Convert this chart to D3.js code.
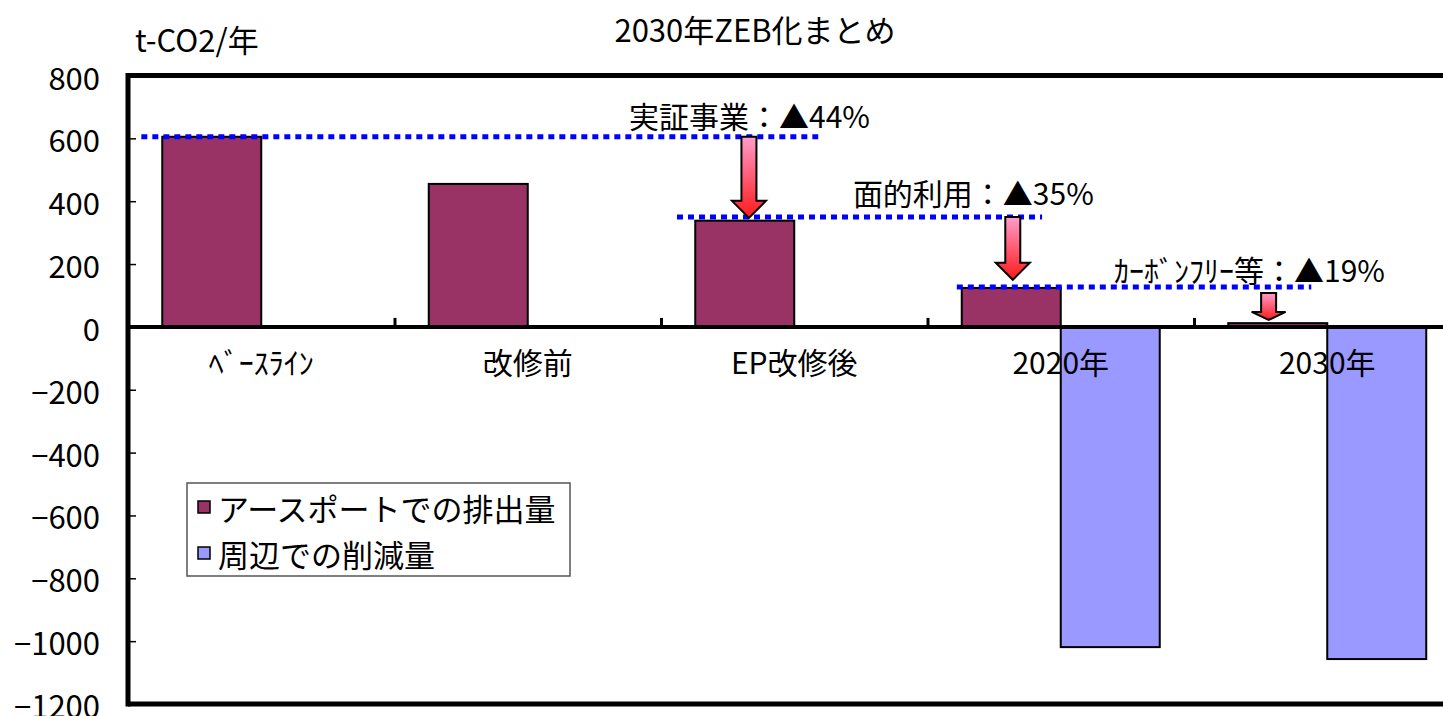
<!DOCTYPE html>
<html>
<head>
<meta charset="utf-8">
<script src="https://cdn.jsdelivr.net/npm/d3@7"></script>
<style>
  body { margin: 0; background: #fff; }
  svg text { font-family: "Noto Sans CJK JP", "Noto Sans", sans-serif; fill: #000; }
</style>
</head>
<body>
<div class="chart"></div>
<script>
// chart data
var categories = ["ﾍﾞｰｽﾗｲﾝ", "改修前", "EP改修後", "2020年", "2030年"];
var seriesNames = ["アースポートでの排出量", "周辺での削減量"];
var emissions = [605, 455, 338, 124, 12];
var reductions = [0, 0, 0, -1019, -1057];
var yTicks = [800, 600, 400, 200, 0, -200, -400, -600, -800, -1000, -1200];

// step annotations (x in category units, y in t-CO2)
var stepLabels = ["実証事業：▲44%", "面的利用：▲35%", "ｶｰﾎﾞﾝﾌﾘｰ等：▲19%"];
var stepLevels = [605, 350, 127];
var stepLineFrom = [0.05, 2.06, 3.11];
var stepLineTo = [2.59, 3.43, 4.44];
var arrowAt = [2.33, 3.32, 4.28];
var arrowFrom = [605, 350, 108];
var arrowTo = [347, 150, 22];
var labelAt = [1.88, 2.72, 3.70];
var labelLevel = [633, 388, 143];

var colors = ["#993366", "#9999ff"];

var width = 1443;
var height = 716;
var plot = { left: 128, top: 75.5, bottom: 704, band: 266.5 };
plot.right = plot.left + plot.band * categories.length;

var svg = d3
  .select(".chart")
  .append("svg")
  .attr("width", width)
  .attr("height", height);

var x = d3.scaleBand().domain(categories).range([plot.left, plot.right]).paddingInner(0).paddingOuter(0);
var xSub = d3.scaleBand().domain(seriesNames).range([0, x.bandwidth()]).paddingInner(0).paddingOuter(0.346);
var xU = d3.scaleLinear().domain([0, categories.length]).range([plot.left, plot.right]);
var y = d3.scaleLinear().domain([-1200, 800]).range([plot.bottom, plot.top]);

// gradient for the arrows
var grad = svg.append("defs").append("linearGradient")
  .attr("id", "arrowGrad")
  .attr("x1", 0).attr("y1", 0).attr("x2", 0).attr("y2", 1);
grad.append("stop").attr("offset", "0%").attr("stop-color", "#ff9ccc");
grad.append("stop").attr("offset", "100%").attr("stop-color", "#ff1a1a");

// titles
svg.append("text")
  .attr("x", 755).attr("y", 28)
  .attr("text-anchor", "middle")
  .attr("dominant-baseline", "central")
  .attr("font-size", "31px")
  .text("2030年ZEB化まとめ");

svg.append("text")
  .attr("x", 135).attr("y", 38)
  .attr("dominant-baseline", "central")
  .attr("font-size", "31px")
  .text("t-CO2/年");

// bars
var rows = categories.map((c, i) => ({ cat: c, values: [emissions[i], reductions[i]] }));

var groups = svg.append("g").attr("class", "bars")
  .selectAll("g")
  .data(rows)
  .enter()
  .append("g")
  .attr("transform", (d) => `translate(${x(d.cat)},0)`);

groups.selectAll("rect")
  .data((d) => d.values.map((v, j) => ({ series: seriesNames[j], value: v, j: j })))
  .enter()
  .filter((d) => d.value !== 0)
  .append("rect")
  .attr("x", (d) => xSub(d.series))
  .attr("width", xSub.bandwidth())
  .attr("y", (d) => y(Math.max(0, d.value)))
  .attr("height", (d) => Math.abs(y(d.value) - y(0)))
  .attr("fill", (d) => colors[d.j])
  .attr("stroke", "#000")
  .attr("stroke-width", 2);

// y axis
var yAxis = d3.axisLeft(y)
  .tickValues(yTicks)
  .tickFormat(d3.format("d"))
  .tickSizeInner(-8)
  .tickSizeOuter(0)
  .tickPadding(28);
var yAxisDraw = svg.append("g").attr("class", "y axis")
  .attr("transform", `translate(${plot.left},0)`)
  .call(yAxis);
yAxisDraw.select(".domain").remove();
yAxisDraw.selectAll(".tick line").attr("stroke", "#000").attr("stroke-width", 1.5);
yAxisDraw.selectAll("text")
  .attr("font-size", "31px")
  .attr("font-family", "\"Noto Sans CJK JP\", sans-serif")
  .attr("fill", "#000")
  .attr("dy", null)
  .attr("dominant-baseline", "central");

// frame
var frame = svg.append("g").attr("class", "frame").attr("stroke", "#000").attr("stroke-width", 5);
frame.append("line").attr("x1", plot.left).attr("x2", plot.left).attr("y1", plot.top - 2.5).attr("y2", plot.bottom + 2.5);
frame.append("line").attr("x1", plot.left).attr("x2", plot.right).attr("y1", plot.top).attr("y2", plot.top);
frame.append("line").attr("x1", plot.left).attr("x2", plot.right).attr("y1", plot.bottom).attr("y2", plot.bottom);
frame.append("line").attr("x1", plot.right).attr("x2", plot.right).attr("y1", plot.top).attr("y2", plot.bottom);

// zero line with category boundary ticks
var xTicks = d3.axisBottom(xU).tickValues(d3.range(1, categories.length)).tickSizeInner(-9).tickSizeOuter(0).tickFormat("");
var xTickDraw = svg.append("g").attr("transform", `translate(0,${y(0)})`).call(xTicks);
xTickDraw.select(".domain").remove();
xTickDraw.selectAll(".tick line").attr("stroke", "#000").attr("stroke-width", 3);

svg.append("line")
  .attr("x1", plot.left).attr("x2", plot.right)
  .attr("y1", y(0)).attr("y2", y(0))
  .attr("stroke", "#000").attr("stroke-width", 4);

// category labels
var xAxis = d3.axisBottom(x).tickSize(0).tickPadding(0);
var xAxisDraw = svg.append("g").attr("class", "x axis")
  .attr("transform", `translate(0,${y(0)})`)
  .call(xAxis);
xAxisDraw.select(".domain").remove();
xAxisDraw.selectAll("text")
  .attr("font-size", "30px")
  .attr("font-family", "\"Noto Sans CJK JP\", sans-serif")
  .attr("fill", "#000")
  .attr("y", 34)
  .attr("dy", null)
  .attr("dominant-baseline", "central");

// dotted step lines
svg.append("g").attr("class", "steps")
  .selectAll("line")
  .data(stepLevels)
  .enter()
  .append("line")
  .attr("x1", (d, i) => xU(stepLineFrom[i]))
  .attr("x2", (d, i) => xU(stepLineTo[i]))
  .attr("y1", (d) => y(d))
  .attr("y2", (d) => y(d))
  .attr("stroke", "#0000ff")
  .attr("stroke-width", 5)
  .attr("stroke-dasharray", "6,5");

// arrows
function arrowPath(i) {
  var cx = xU(arrowAt[i]);
  var y0 = y(arrowFrom[i]);
  var y1 = y(arrowTo[i]);
  var s = 7.5, hw = 17;
  var h = Math.min(17, (y1 - y0) * 0.3);
  return d3.line()([
    [cx - s, y0], [cx + s, y0], [cx + s, y1 - h], [cx + hw, y1 - h],
    [cx, y1], [cx - hw, y1 - h], [cx - s, y1 - h]
  ]) + "Z";
}

svg.append("g").attr("class", "arrows")
  .selectAll("path")
  .data(arrowAt)
  .enter()
  .append("path")
  .attr("d", (d, i) => arrowPath(i))
  .attr("fill", "url(#arrowGrad)")
  .attr("stroke", "#000")
  .attr("stroke-width", 2)
  .attr("stroke-linejoin", "miter");

// step labels
svg.append("g").attr("class", "step-labels")
  .selectAll("text")
  .data(stepLabels)
  .enter()
  .append("text")
  .attr("x", (d, i) => xU(labelAt[i]))
  .attr("y", (d, i) => y(labelLevel[i]))
  .attr("font-size", "30px")
  .text((d) => d);

// legend
var legend = svg.append("g").attr("class", "legend").attr("transform", "translate(187,483)");
legend.append("rect")
  .attr("width", 383).attr("height", 93)
  .attr("fill", "#fff")
  .attr("stroke", "#555")
  .attr("stroke-width", 1.5);

var items = legend.selectAll(".item")
  .data(seriesNames)
  .enter()
  .append("g")
  .attr("class", "item")
  .attr("transform", (d, i) => `translate(0,${24 + i * 46})`);

items.append("rect")
  .attr("x", 11).attr("y", -6)
  .attr("width", 12).attr("height", 12)
  .attr("fill", (d, i) => colors[i])
  .attr("stroke", "#000")
  .attr("stroke-width", 1.5);

items.append("text")
  .attr("x", 31)
  .attr("dominant-baseline", "central")
  .attr("font-size", "31px")
  .text((d) => d);
</script>
</body>
</html>
